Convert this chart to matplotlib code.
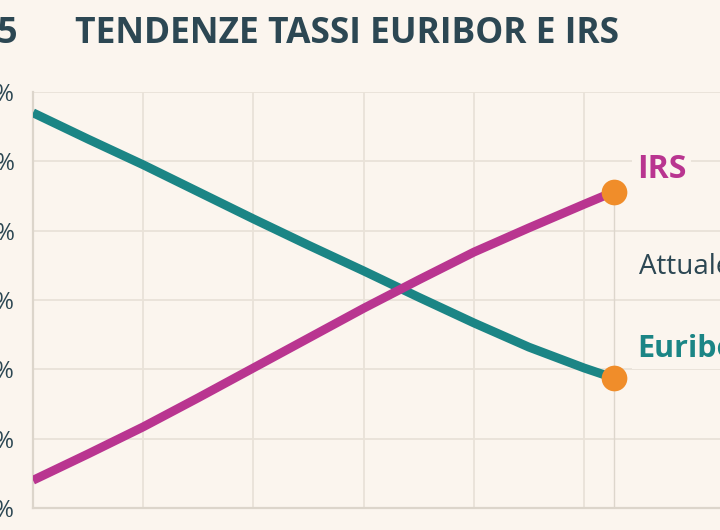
import matplotlib
matplotlib.use("Agg")
import matplotlib.pyplot as plt

# Dati (posizione sull'asse X e tasso in %)
periodi = [0, 0.5, 1, 1.5, 2, 2.5, 3, 3.5, 4, 4.5, 5, 5.27]
euribor = [5.70, 5.32, 4.95, 4.56, 4.17, 3.79, 3.42, 3.04, 2.67, 2.32, 2.02, 1.875]
irs = [0.40, 0.78, 1.17, 1.59, 2.02, 2.45, 2.88, 3.29, 3.69, 4.04, 4.38, 4.56]
tick_x = [0, 1, 2, 3, 4, 5]
tick_y = [0, 1, 2, 3, 4, 5, 6]
etichette_y = ["0%", "1%", "2%", "3%", "4%", "5%", "6%"]

SFONDO = "#FBF5EE"
GRIGLIA = "#E9E2D8"
TEAL = "#1B8585"
MAGENTA = "#B93590"
ARANCIO = "#F08D2A"
SCURO = "#2C4753"

plt.rcParams['font.family'] = ['Open Sans', 'DejaVu Sans']

W, H = 720, 530
fig = plt.figure(figsize=(7.2, 5.3), dpi=100, facecolor=SFONDO)
ax = fig.add_axes([33 / W, 22 / H, 687 / W, 416 / H], facecolor=SFONDO)

# Linea verticale al punto attuale
ax.vlines(periodi[-1], 0, irs[-1], color="#DDD6CC", lw=1, zorder=1)

ax.plot(periodi, euribor, color=TEAL, lw=6.4, solid_capstyle='butt',
        solid_joinstyle='round', zorder=3)
ax.plot(periodi, irs, color=MAGENTA, lw=6.4, solid_capstyle='butt',
        solid_joinstyle='round', zorder=3)
ax.plot([periodi[-1]] * 2, [irs[-1], euribor[-1]], 'o', color=ARANCIO,
        markersize=18.5, markeredgewidth=0, zorder=4)

# Etichette delle serie
box = dict(boxstyle='square,pad=0.15', facecolor=SFONDO, edgecolor='none')
ax.text(periodi[-1] + 0.21, irs[-1] + 0.20, "IRS", color=MAGENTA, fontsize=23,
        fontweight='bold', va='baseline', bbox=box, zorder=5)
ax.text(periodi[-1] + 0.23, 3.375, "Attuale", color=SCURO, fontsize=20,
        va='baseline', bbox=box, zorder=5)
ax.text(periodi[-1] + 0.21, euribor[-1] + 0.30, "Euribor", color=TEAL, fontsize=22,
        fontweight='bold', va='baseline', bbox=box, zorder=5)

ax.set_xlim(0, 687 / 110.2)
ax.set_ylim(0, 6)
ax.set_xticks(tick_x)
ax.set_xticklabels([])
ax.set_yticks(tick_y)
ax.set_yticklabels(etichette_y)
ax.tick_params(length=0, pad=13, labelsize=17, labelcolor=SCURO)
ax.grid(True, color=GRIGLIA, lw=1.3, zorder=0)
ax.set_axisbelow(True)
for lato in ['top', 'right']:
    ax.spines[lato].set_visible(False)
for lato in ['left', 'bottom']:
    ax.spines[lato].set_color("#DCD5CB")
    ax.spines[lato].set_linewidth(1.6)

# Titolo
fig.text(18 / W, (H - 43) / H, "2025", color=SCURO, fontsize=25.5,
         fontweight='bold', ha='right', va='baseline')
fig.text(75 / W, (H - 43) / H, "TENDENZE TASSI EURIBOR E IRS", color=SCURO,
         fontsize=25.5, fontweight='bold', ha='left', va='baseline')

fig.savefig("out.png", dpi=100, facecolor=SFONDO)
